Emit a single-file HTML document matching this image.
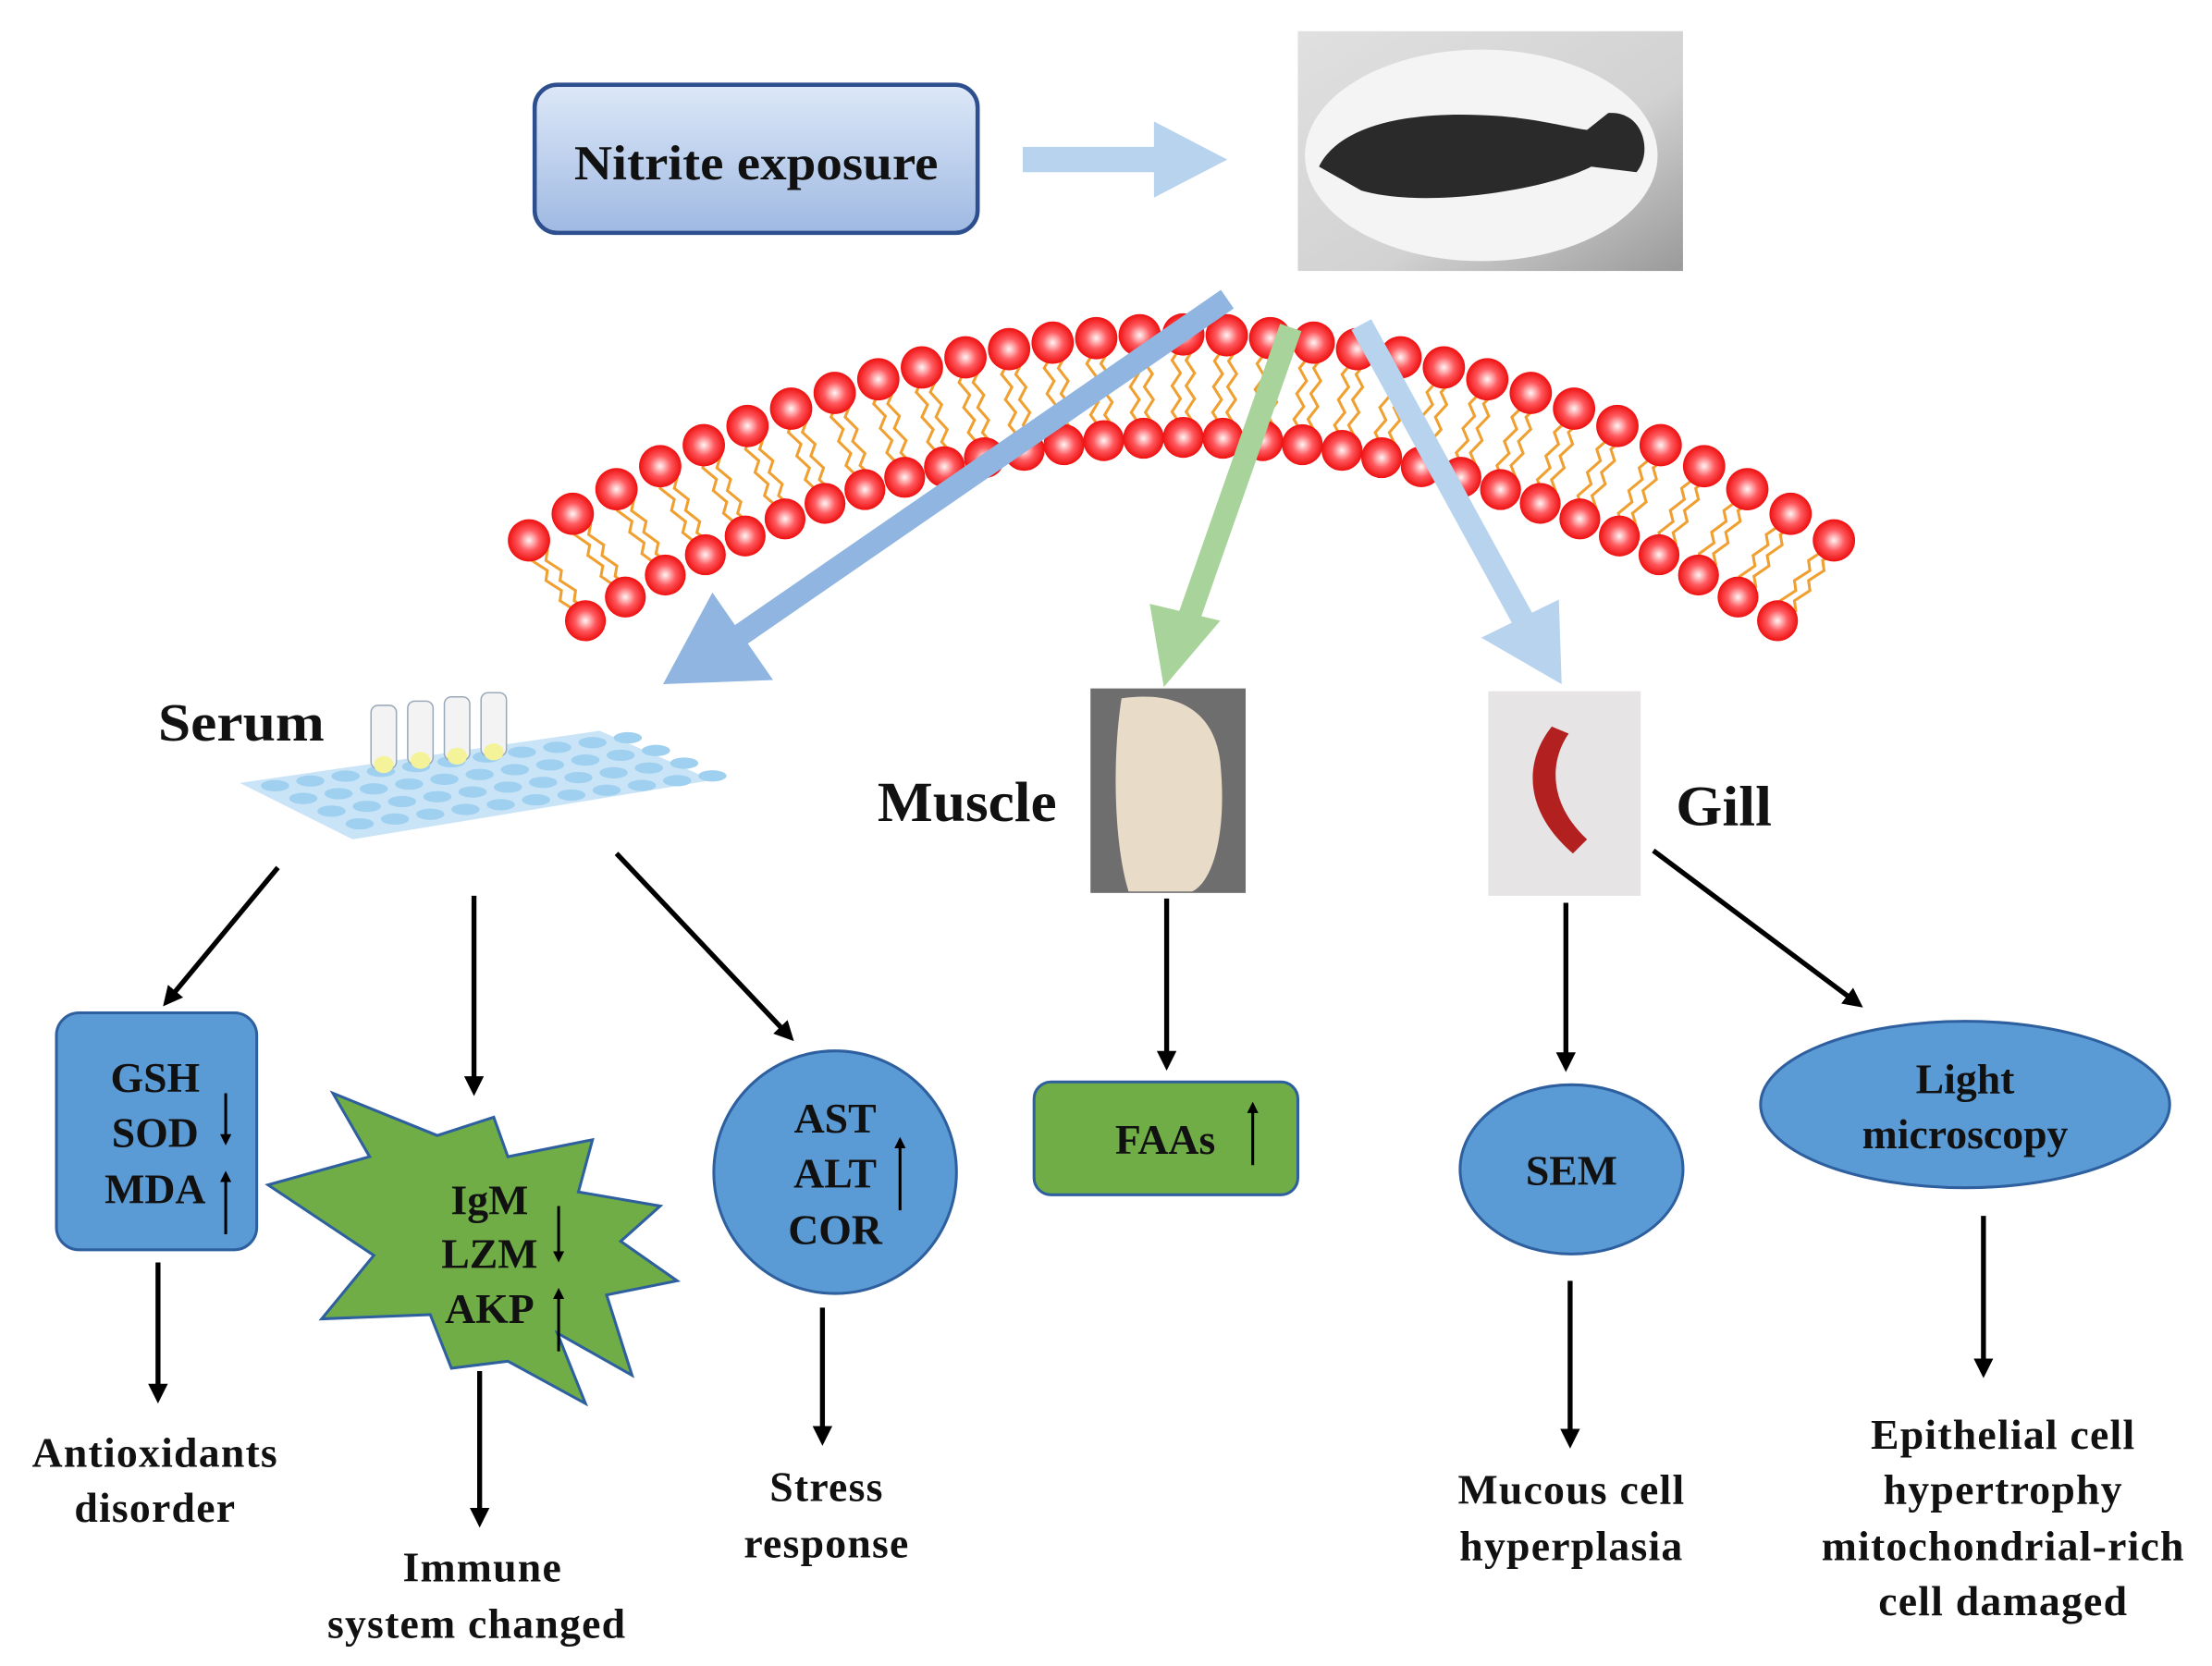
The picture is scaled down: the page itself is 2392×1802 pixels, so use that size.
<!DOCTYPE html>
<html><head><meta charset="utf-8"><style>
html,body{margin:0;padding:0;background:#fff}
svg{display:block}
text{font-family:"Liberation Serif",serif;font-weight:bold;fill:#111}
</style></head><body>
<svg id="s" width="2392" height="1802" viewBox="0 0 1568 1181" xmlns="http://www.w3.org/2000/svg">
<defs>
<radialGradient id="rb" cx="0.5" cy="0.5" r="0.5"><stop offset="0" stop-color="#fff6f6"/><stop offset="0.5" stop-color="#ff5a5f"/><stop offset="1" stop-color="#ee1010"/></radialGradient>
<linearGradient id="nb" x1="0" y1="0" x2="0" y2="1"><stop offset="0" stop-color="#dde8f8"/><stop offset="1" stop-color="#9fb9e2"/></linearGradient>
<linearGradient id="ph" x1="0" y1="0" x2="1" y2="1"><stop offset="0" stop-color="#e0e0e0"/><stop offset="0.6" stop-color="#d2d2d2"/><stop offset="1" stop-color="#9a9a9a"/></linearGradient>
<marker id="ah" markerWidth="8" markerHeight="8" refX="6" refY="4" orient="auto" markerUnits="userSpaceOnUse"><path d="M0,0 L8,4 L0,8 Z" fill="#000"/></marker>
<marker id="ah2" viewBox="0 0 10 10" markerWidth="14" markerHeight="14" refX="5" refY="5" orient="auto" markerUnits="userSpaceOnUse"><path d="M0,0 L10,5 L0,10 Z" fill="#000"/></marker>
</defs>
<g id="mem"></g>

<rect x="379" y="60" width="314" height="105" rx="16" fill="url(#nb)" stroke="#2e4f8e" stroke-width="3"/>
<text x="536" y="127" font-size="35" text-anchor="middle" textLength="258" lengthAdjust="spacingAndGlyphs">Nitrite exposure</text>
<polygon points="725,104 818,104 818,86 870,113 818,140 818,122 725,122" fill="#b8d3ee"/>

<rect x="920" y="22" width="273" height="170" fill="url(#ph)"/>
<ellipse cx="1050" cy="110" rx="125" ry="75" fill="#f4f4f4"/>
<path d="M935,118 C950,88 1000,78 1060,82 C1090,84 1110,90 1125,92 L1140,80 C1165,78 1172,108 1160,122 L1128,118 C1095,135 1010,148 965,135 Z" fill="#2a2a2a"/>

<line x1="870" y1="212" x2="525" y2="450" stroke="#8fb5e0" stroke-width="16"/>
<polygon points="470,485 505,420 548,482" fill="#8fb5e0"/>
<line x1="915" y1="232" x2="842" y2="440" stroke="#a8d39a" stroke-width="16"/>
<polygon points="825,487 815,428 865,440" fill="#a8d39a"/>
<line x1="965" y1="230" x2="1080" y2="440" stroke="#b8d3ee" stroke-width="16"/>
<polygon points="1107,485 1050,452 1105,425" fill="#b8d3ee"/>

<text x="112" y="525" font-size="38" textLength="118" lengthAdjust="spacingAndGlyphs">Serum</text>
<polygon points="170,555 425,518 505,553 250,595" fill="#c9e4f7"/>
<g id="wells"></g>
<g fill="#f3f3f3" stroke="#9ab" stroke-width="1">
<rect x="263" y="500" width="18" height="45" rx="5"/><rect x="289" y="497" width="18" height="45" rx="5"/><rect x="315" y="494" width="18" height="45" rx="5"/><rect x="341" y="491" width="18" height="45" rx="5"/>
</g>
<g fill="#f4f39a"><ellipse cx="272" cy="542" rx="7" ry="6"/><ellipse cx="298" cy="539" rx="7" ry="6"/><ellipse cx="324" cy="536" rx="7" ry="6"/><ellipse cx="350" cy="533" rx="7" ry="6"/></g>

<text x="622" y="582" font-size="40" textLength="127" lengthAdjust="spacingAndGlyphs">Muscle</text>
<rect x="773" y="488" width="110" height="145" fill="#6e6e6e"/>
<path d="M795,495 C830,490 860,500 865,540 C870,590 860,625 845,632 L800,632 C790,600 788,540 795,495Z" fill="#e8dcc8"/>
<text x="1188" y="585" font-size="40" textLength="68" lengthAdjust="spacingAndGlyphs">Gill</text>
<rect x="1055" y="490" width="108" height="145" fill="#e6e4e4"/>
<path d="M1100,515 C1080,540 1080,575 1115,605 L1125,595 C1098,570 1098,540 1112,520Z" fill="#b32020"/>

<g stroke="#000" stroke-width="3.5" fill="none" marker-end="url(#ah2)">
<line x1="197" y1="615" x2="120" y2="708"/>
<line x1="336" y1="635" x2="336" y2="770"/>
<line x1="437" y1="605" x2="558" y2="733"/>
<line x1="827" y1="637" x2="827" y2="752"/>
<line x1="1110" y1="640" x2="1110" y2="753"/>
<line x1="1172" y1="603" x2="1315" y2="710"/>
<line x1="112" y1="895" x2="112" y2="988"/>
<line x1="340" y1="972" x2="340" y2="1076"/>
<line x1="583" y1="927" x2="583" y2="1018"/>
<line x1="1113" y1="908" x2="1113" y2="1020"/>
<line x1="1406" y1="862" x2="1406" y2="970"/>
</g>

<rect x="40" y="718" width="142" height="168" rx="16" fill="#5b9bd5" stroke="#2e5f9e" stroke-width="2"/>
<g font-size="30"><text x="110" y="774" text-anchor="middle">GSH</text><text x="110" y="813" text-anchor="middle">SOD</text><text x="110" y="853" text-anchor="middle">MDA</text></g>
<polygon points="190,840 262,820 236,775 310,805 350,792 360,820 420,808 410,845 468,855 440,880 480,908 430,918 448,975 395,945 415,995 360,965 320,970 305,932 228,935 265,890" fill="#70ad47" stroke="#2e5f9e" stroke-width="2"/>
<g font-size="30"><text x="347" y="861" text-anchor="middle">IgM</text><text x="347" y="899" text-anchor="middle">LZM</text><text x="347" y="938" text-anchor="middle">AKP</text></g>
<circle cx="592" cy="831" r="86" fill="#5b9bd5" stroke="#2e5f9e" stroke-width="2"/>
<g font-size="30"><text x="592" y="803" text-anchor="middle">AST</text><text x="592" y="842" text-anchor="middle">ALT</text><text x="592" y="882" text-anchor="middle">COR</text></g>
<rect x="733" y="767" width="187" height="80" rx="12" fill="#70ad47" stroke="#2e5f9e" stroke-width="2"/>
<text x="826" y="818" font-size="30" text-anchor="middle">FAAs</text>
<ellipse cx="1114" cy="829" rx="79" ry="60" fill="#5b9bd5" stroke="#2e5f9e" stroke-width="2"/>
<text x="1114" y="840" font-size="30" text-anchor="middle">SEM</text>
<ellipse cx="1393" cy="783" rx="145" ry="59" fill="#5b9bd5" stroke="#2e5f9e" stroke-width="2"/>
<text x="1393" y="775" font-size="30" text-anchor="middle">Light</text><text x="1393" y="814" font-size="30" text-anchor="middle">microscopy</text>

<g stroke="#000" stroke-width="2" marker-end="url(#ah)">
<line x1="160" y1="775" x2="160" y2="810"/><line x1="160" y1="875" x2="160" y2="832"/>
<line x1="396" y1="855" x2="396" y2="893"/><line x1="396" y1="958" x2="396" y2="915"/>
<line x1="638" y1="858" x2="638" y2="808"/>
<line x1="888" y1="826" x2="888" y2="783"/>
</g>

<g font-size="30" text-anchor="middle" style="letter-spacing:0.8px">
<text x="110" y="1040">Antioxidants</text><text x="110" y="1079">disorder</text>
<text x="342" y="1121">Immune</text><text x="338" y="1161">system changed</text>
<text x="586" y="1064">Stress</text><text x="586" y="1104">response</text>
<text x="1114" y="1066">Mucous cell</text><text x="1114" y="1106">hyperplasia</text>
<text x="1420" y="1027">Epithelial cell</text><text x="1420" y="1066">hypertrophy</text><text x="1420" y="1106">mitochondrial-rich</text><text x="1420" y="1145">cell damaged</text>
</g>
</svg>
<script>
(function(){
var m=document.getElementById("mem");
function q(p0,c,p1,t){var u=1-t;return [u*u*p0[0]+2*u*t*c[0]+t*t*p1[0],u*u*p0[1]+2*u*t*c[1]+t*t*p1[1]];}
var N=31,o=[],n=[];
for(var i=0;i<N;i++){var t=i/(N-1);o.push(q([375,383],[840,91],[1300,383],t));n.push(q([415,440],[840,180],[1260,440],t));}
var tails="";
for(var i=0;i<N;i++){
 for(var k=-1;k<=1;k+=2){
  var a=[o[i][0]+k*5,o[i][1]],b=[n[i][0]+k*5,n[i][1]];
  var d="M"+a[0]+","+a[1];var S=8;
  for(var j=1;j<=S;j++){var f=j/S,x=a[0]+(b[0]-a[0])*f+((j%2)?3:-3),y=a[1]+(b[1]-a[1])*f;d+=" L"+x.toFixed(1)+","+y.toFixed(1);}
  tails+='<path d="'+d+'" stroke="#f0a030" stroke-width="2" fill="none"/>';
 }
}
var c="";
for(var i=0;i<N;i++){c+='<circle cx="'+o[i][0].toFixed(1)+'" cy="'+o[i][1].toFixed(1)+'" r="15" fill="url(#rb)"/>';c+='<circle cx="'+n[i][0].toFixed(1)+'" cy="'+n[i][1].toFixed(1)+'" r="14.5" fill="url(#rb)"/>';}
m.innerHTML=tails+c;
var w=document.getElementById("wells"),s="";
for(var r=0;r<4;r++)for(var k=0;k<11;k++){
 var x=195+k*25+r*20, y=557-k*3.4+r*9;
 s+='<ellipse cx="'+x.toFixed(1)+'" cy="'+y.toFixed(1)+'" rx="10" ry="4" fill="#9fd0f0"/>';
}
w.innerHTML=s;
})();
</script>
</body></html>
